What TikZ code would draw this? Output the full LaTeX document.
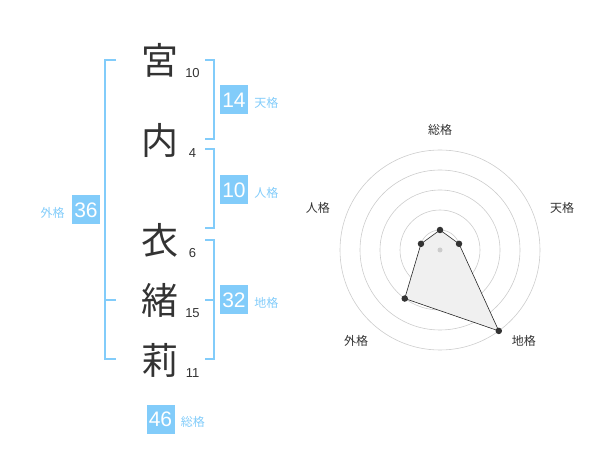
\documentclass[tikz,border=0pt]{standalone}
\usepackage{fontspec}
\setmainfont{Liberation Sans}
\newfontfamily\jpfont{Noto Sans CJK JP}
\usepackage{tikz}
\usetikzlibrary{calc}
\usetikzlibrary{positioning}
\definecolor{kakublue}{RGB}{130,204,250}
\definecolor{inkgray}{RGB}{51,51,51}

\begin{document}
\begin{tikzpicture}[x=1pt, y=-1pt,
			kanji/.style    = {font=\jpfont\fontsize{37}{37}\selectfont, text=inkgray, inner sep=0pt},
			strokes/.style  = {font=\fontsize{13}{13}\selectfont, text=inkgray, inner sep=0pt, anchor=base},
			kaku/.style     = {fill=kakublue, text=white, font=\fontsize{21}{21}\selectfont, minimum width=28pt, minimum height=29pt, inner sep=0pt},
			kakuname/.style = {text=kakublue, font=\jpfont\fontsize{12}{12}\selectfont, inner sep=0pt},
			bracket/.style  = {draw=kakublue, line width=1.8pt},
			ring/.style     = {draw=gray!40, line width=0.6pt},
			axislabel/.style = {text=inkgray, font=\jpfont\fontsize{12}{12}\selectfont, inner sep=0pt},
			dot/.style      = {circle, fill=inkgray, inner sep=0pt, minimum size=6.5pt}]
			
			\useasboundingbox (0,0) rectangle (600,470);
			
			% the name, one character per line, with its stroke count
			\foreach \ch/\st/\y [count=\i] in {宮/10/60, 内/4/140, 衣/6/240, 緒/15/300, 莉/11/360}
			{
				\node[kanji] (k\i) at (160,\y) {\ch};
				\node[strokes] (n\i) at (192.5,\y+17.5) {\st};
			}
			
			% brackets on the right
			\draw[bracket] (205,60) -- (214,60) -- (214,139) -- (205,139);
			\draw[bracket] (205,149) -- (214,149) -- (214,228) -- (205,228);
			\draw[bracket] (205,240) -- (214,240) -- (214,359) -- (205,359);
			\draw[bracket] (205,300) -- (214,300);
			
			% bracket on the left
			\draw[bracket] (116,60) -- (105,60) -- (105,359) -- (116,359);
			\draw[bracket] (105,300) -- (116,300);
			
			% the five totals
			\node[kaku] (ten) at (234,100) {14};
			\node[kaku] (jin) at (234,190) {10};
			\node[kaku] (chi) at (234,300) {32};
			\node[kaku] (gai) at (86,210) {36};
			\node[kaku] (sou) at (160.5,419) {46};
			
			\node[kakuname, right=6pt of ten, yshift=-3pt] (tenname) {天格};
			\node[kakuname, right=6pt of jin, yshift=-3pt] (jinname) {人格};
			\node[kakuname, right=6pt of chi, yshift=-3pt] (chiname) {地格};
			\node[kakuname, left=7pt of gai, yshift=-3pt] (gainame) {外格};
			\node[kakuname, right=6pt of sou, yshift=-3pt] (souname) {総格};
			
			% radar chart
			\begin{scope}[shift={(440,250)}]
				\foreach \r in {20,40,60,80,100}
				\draw[ring] (0,0) circle (\r pt);
				
				\coordinate (p1) at (90:20pt);
				\coordinate (p2) at (18:20pt);
				\coordinate (p3) at (-54:100pt);
				\coordinate (p4) at (-126:60pt);
				\coordinate (p5) at (162:20pt);
				
				\draw[fill=gray!12, draw=black!85, line width=0.6pt] (p1) -- (p2) -- (p3) -- (p4) -- (p5) -- cycle;
				\node[circle, fill=gray!40, inner sep=0pt, minimum size=5pt] (mid) at (0,0) {};
				\foreach \i in {1,...,5}
				\node[dot] (d\i) at (p\i) {};
				
				\node[axislabel] (a1) at (90:120pt) {総格};
				\node[axislabel] (a2) at (18.8:129pt) {天格};
				\node[axislabel] (a3) at (-47.5:124pt) {地格};
				\node[axislabel] (a4) at (-132.5:124pt) {外格};
				\node[axislabel] (a5) at (161.2:129pt) {人格};
			\end{scope}
		\end{tikzpicture}
\end{document}
